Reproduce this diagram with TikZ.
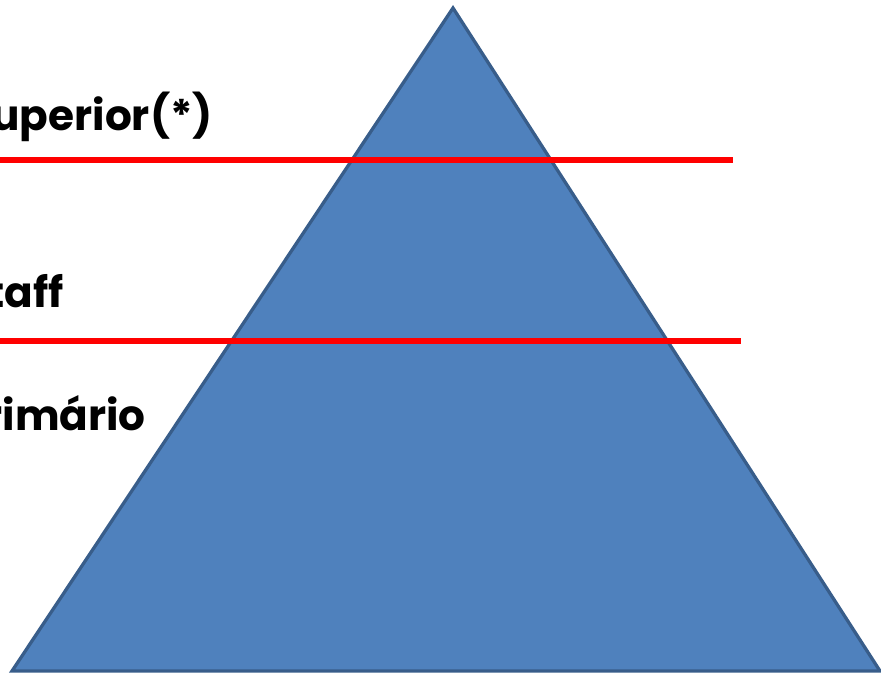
\documentclass[tikz,border=0pt]{standalone}
\usepackage{fontspec}
\setmainfont{Poppins}
\usepackage{tikz}
\usetikzlibrary{positioning, calc}

\definecolor{pyrfill}{HTML}{4F81BD}
\definecolor{pyredge}{HTML}{385D8A}

\begin{document}
\begin{tikzpicture}[
    x=0.03cm, y=-0.03cm,
    level/.style={
        anchor=base east,
        inner sep=0pt,
        font=\fontsize{36}{40}\selectfont\bfseries
    },
    cut/.style={
        draw=red,
        line width=4.5pt
    }
]

% Canvas
\useasboundingbox (0,0) rectangle (881,675);
\clip (0,0) rectangle (881,675);

% Pyramid
\coordinate (apex) at (453,8);
\coordinate (left) at (12,671);
\coordinate (right) at (880,671);
\draw[fill=pyrfill, draw=pyredge, line width=2.8pt, line join=miter]
    (apex) -- (left) -- (right) -- cycle;

% Level separators
\coordinate (cut1a) at (0,160);
\coordinate (cut1b) at (733,160);
\coordinate (cut2a) at (0,341);
\coordinate (cut2b) at (741,341);
\draw[cut] (cut1a) -- (cut1b);
\draw[cut] (cut2a) -- (cut2b);

% Level labels
\node[level] (superior) at (213,130) {uperior(*)};
\node[level] (staff) at (64,307) {taff};
\node[level] (primario) at (146,430) {rimário};

\end{tikzpicture}
\end{document}
